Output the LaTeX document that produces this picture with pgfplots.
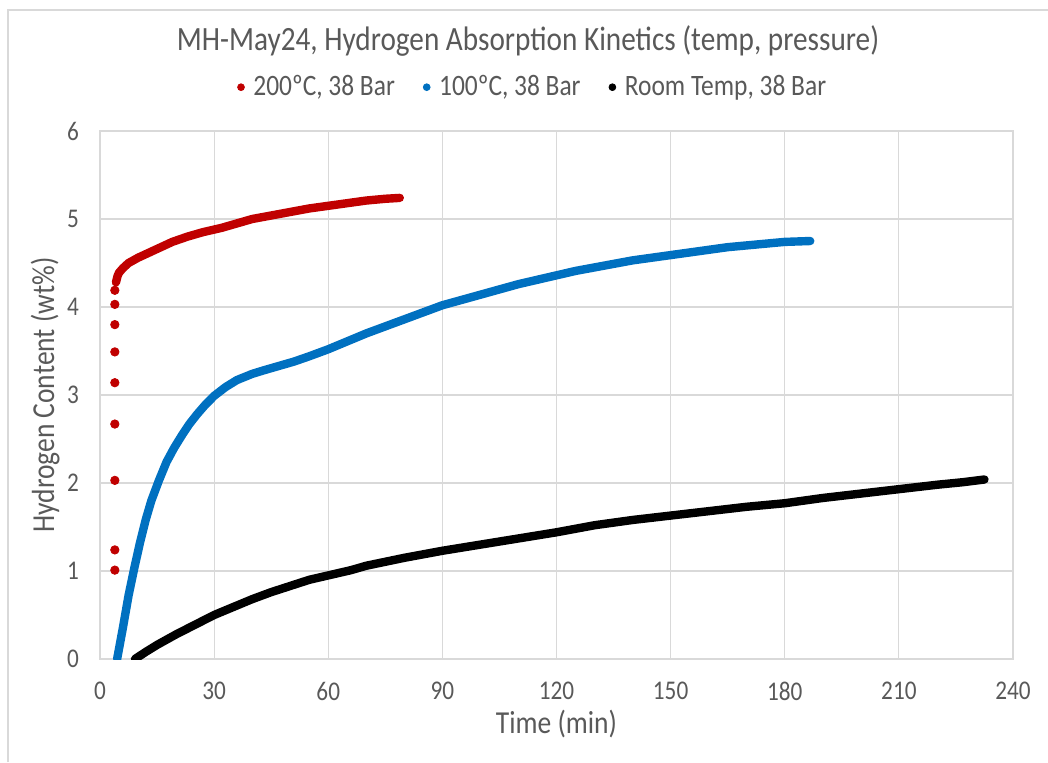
\documentclass[border=0pt]{standalone}
\usepackage{fontspec}
\setmainfont{Carlito}[FakeStretch=0.86]
\usepackage{pgfplots}
\pgfplotsset{compat=1.18}
\definecolor{txt}{HTML}{595959}
\definecolor{gridc}{HTML}{D9D9D9}
\definecolor{sred}{HTML}{C00000}
\definecolor{sblue}{HTML}{0070C0}
\begin{document}
\begin{tikzpicture}
\begin{axis}[
  at={(0pt,0pt)}, anchor=south west,
  scale only axis, width=456.5pt, height=264pt,
  xmin=0, xmax=240, ymin=0, ymax=6,
  xtick={0,30,...,240}, ytick={0,1,...,6},
  major tick length=0pt,
  grid=major, grid style={gridc, line width=0.6pt},
  axis line style={gridc, line width=0.6pt},
  tick label style={font=\fontsize{13.5}{15}\selectfont, color=txt},
  /pgf/number format/assume math mode=true,
  xticklabel style={anchor=center, yshift=-16pt},
  yticklabel style={xshift=-7pt},
  xlabel={Time (min)}, ylabel={Hydrogen Content (wt\%)},
  label style={font=\fontsize{16}{18}\selectfont, color=txt},
  xlabel style={at={(axis description cs:0.5,-0.123)}, anchor=center},
  ylabel style={at={(axis description cs:-0.060,0.5)}, anchor=center},
  legend columns=3,
  legend style={at={(0.475,1.083)}, anchor=center, draw=none, fill=none,
    font=\fontsize{14.8}{17}\selectfont, text=txt,
    /tikz/every even column/.append style={column sep=12pt}},
  legend cell align=left,
]
\addlegendimage{legend image code/.code={\fill[sred] (0.3cm,0cm) circle (1.7pt); \path (0.3cm+4pt,0cm);}}
\addlegendentry{200ºC, 38 Bar}
\addlegendimage{legend image code/.code={\fill[sblue] (0.3cm,0cm) circle (1.7pt); \path (0.3cm+4pt,0cm);}}
\addlegendentry{100ºC, 38 Bar}
\addlegendimage{legend image code/.code={\fill[black] (0.3cm,0cm) circle (1.7pt); \path (0.3cm+4pt,0cm);}}
\addlegendentry{Room Temp, 38 Bar}

% 200 C: early discrete points
\addplot[forget plot, only marks, mark=*, mark size=2.1pt, sred, mark options={draw=sred, fill=sred}]
coordinates {(3.9,1.01) (3.9,1.24) (3.9,2.03) (3.9,2.67) (3.9,3.14) (3.9,3.49) (3.9,3.80) (3.9,4.03) (3.9,4.19)};
% 200 C: dense part
\addplot[forget plot, sred, line width=4.2pt, line cap=round, line join=round]
coordinates {
(4.2,4.28) (4.6,4.35) (5,4.39) (6,4.44) (7.5,4.50) (10,4.56) (13,4.62) (16,4.68)
(19,4.74) (23,4.80) (27,4.85) (32,4.90) (36,4.95) (40,5.00) (45,5.04) (50,5.08)
(55,5.12) (60,5.15) (65,5.18) (70,5.21) (75,5.23) (78.8,5.24)
};
% 100 C
\addplot[forget plot, sblue, line width=4.2pt, line cap=round, line join=round]
coordinates {
(4.5,0) (6,0.35) (7.5,0.72) (9,1.03) (10.5,1.32) (12,1.58) (13.5,1.80) (15.5,2.03)
(17.5,2.24) (19.5,2.40) (21.5,2.54) (23.5,2.67) (25.5,2.78) (27.5,2.88) (30,2.99)
(33,3.09) (36,3.17) (40,3.24) (43,3.28) (47,3.33) (51,3.38) (55,3.44) (60,3.52)
(65,3.61) (70,3.70) (75,3.78) (80,3.86) (85,3.94) (90,4.02) (95,4.08) (100,4.14)
(105,4.20) (110,4.26) (115,4.31) (120,4.36) (125,4.41) (130,4.45) (135,4.49)
(140,4.53) (145,4.56) (150,4.59) (155,4.62) (160,4.65) (165,4.68) (170,4.70)
(175,4.72) (180,4.74) (186.7,4.75)
};
% Room temp
\addplot[forget plot, black, line width=4.2pt, line cap=round, line join=round]
coordinates {
(9.2,0) (12,0.08) (15,0.16) (20,0.28) (25,0.39) (30,0.50) (35,0.59) (40,0.68)
(45,0.76) (50,0.83) (55,0.90) (60,0.95) (66,1.01) (70,1.06) (80,1.15) (90,1.23)
(100,1.30) (110,1.37) (120,1.44) (125,1.48) (130,1.52) (140,1.58) (150,1.63)
(160,1.68) (170,1.73) (180,1.77) (190,1.83) (200,1.88) (210,1.93) (220,1.98)
(227,2.01) (232.5,2.04)
};
\end{axis}
\node[text=txt, font=\fontsize{17}{20}\selectfont] at (214pt,309pt)
  {MH-May24, Hydrogen Absorption Kinetics (temp, pressure)};
\draw[gridc, line width=0.6pt] (-46pt,-51.5pt) -- (-46pt,324.5pt) -- (474pt,324.5pt);
\pgfresetboundingbox
\useasboundingbox (-50pt,-51.5pt) rectangle (474pt,329.5pt);
\end{tikzpicture}
\end{document}
